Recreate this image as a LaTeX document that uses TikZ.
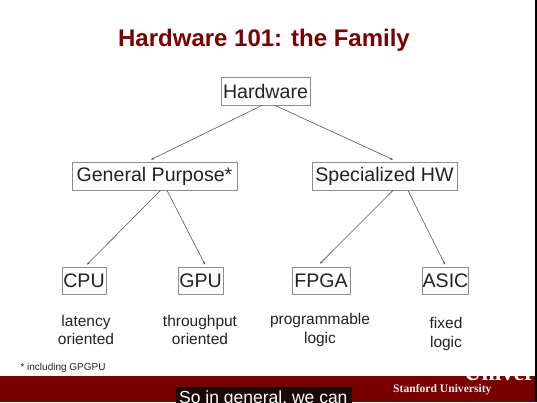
\documentclass[tikz,border=0pt]{standalone}
\usepackage{fontspec}
\setmainfont{Liberation Sans}
\newfontfamily\serifuni{Liberation Serif}
\usetikzlibrary{arrows.meta}
\definecolor{cardinal}{HTML}{7A0000}
\definecolor{boxgray}{HTML}{8C8C8C}
\definecolor{linegray}{HTML}{555555}
\definecolor{inkgray}{HTML}{222222}
\definecolor{capbg}{HTML}{1A0A0A}
\begin{document}
\begin{tikzpicture}[x=1pt,y=-1pt,
  hwbox/.style={draw=boxgray,line width=0.8pt,text=inkgray,inner sep=0pt,
    font=\fontsize{19.6}{22}\selectfont,minimum height=28pt},
  conn/.style={draw=linegray,line width=0.6pt,
    -{Stealth[length=3pt,width=2.4pt]}},
  note/.style={text=inkgray,align=center,font=\fontsize{15.5}{18.5}\selectfont},
]
\useasboundingbox (0,0) rectangle (537,402);
\fill[white] (0,0) rectangle (537,402);

% title
\node[font=\bfseries\fontsize{24}{28}\selectfont,text=cardinal] (title) at (264,40) {Hardware 101: the Family};

% tree
\node[hwbox,minimum width=89pt]  (hw)   at (265.5,91)  {Hardware};
\node[hwbox,minimum width=165pt] (gp)   at (154.5,176) {General Purpose*};
\node[hwbox,minimum width=145pt] (sp)   at (384.5,176) {Specialized HW};
\node[hwbox,minimum width=44pt,minimum height=27pt]  (cpu)  at (84,280.5)   {CPU};
\node[hwbox,minimum width=45pt,minimum height=27pt]  (gpu)  at (200.5,280.5) {GPU};
\node[hwbox,minimum width=58pt,minimum height=27pt]  (fpga) at (321,280.5)  {FPGA};
\node[hwbox,minimum width=45pt,minimum height=27pt]  (asic) at (445.5,280.5) {ASIC};

\draw[conn] ([xshift=-3.5pt]hw.south) -- ([xshift=-3.5pt,yshift=2pt]gp.north);
\draw[conn] ([xshift=9.5pt]hw.south)  -- ([xshift=8.5pt,yshift=2pt]sp.north);
\draw[conn] ([xshift=6pt]gp.south)    -- ([xshift=3pt,yshift=2pt]cpu.north);
\draw[conn] ([xshift=12.5pt]gp.south) -- ([xshift=4.5pt,yshift=2pt]gpu.north);
\draw[conn] ([xshift=8.5pt]sp.south)  -- ([xshift=-1pt,yshift=3pt]fpga.north);
\draw[conn] ([xshift=23.5pt]sp.south) -- ([xshift=-0.5pt,yshift=2pt]asic.north);

% descriptions
\node[note] (dcpu)  at (86,330)  {latency\\oriented};
\node[note] (dgpu)  at (200,330) {throughput\\oriented};
\node[note] (dfpga) at (320,330) {programmable\\logic};
\node[note] (dasic) at (446,334) {fixed\\logic};

% footnote
\node[anchor=west,text=inkgray,font=\fontsize{10}{12}\selectfont] (foot) at (17,368) {* including GPGPU};

% footer bar
\fill[cardinal] (0,376) rectangle (537,402);
\begin{scope}
  \clip (0,376) rectangle (535,402);
  \node[anchor=base west,text=white,font=\serifuni\bfseries\fontsize{24}{28}\selectfont,inner sep=0pt] (uni) at (464,380) {Univer};
\end{scope}
\node[anchor=base west,text=white!92!black,font=\serifuni\bfseries\fontsize{11.6}{14}\selectfont,inner sep=0pt] (stanford) at (393,392) {Stanford University};
\begin{scope}
  \clip (0,0) rectangle (537,402);
  \fill[capbg] (176,387) rectangle (352,405);
  \node[anchor=base west,text=white,font=\fontsize{17.5}{20}\selectfont,inner sep=0pt] (caption) at (179,403.5) {So in general, we can};
\end{scope}
\fill[black] (534.5,0) rectangle (537,402);
\end{tikzpicture}
\end{document}
